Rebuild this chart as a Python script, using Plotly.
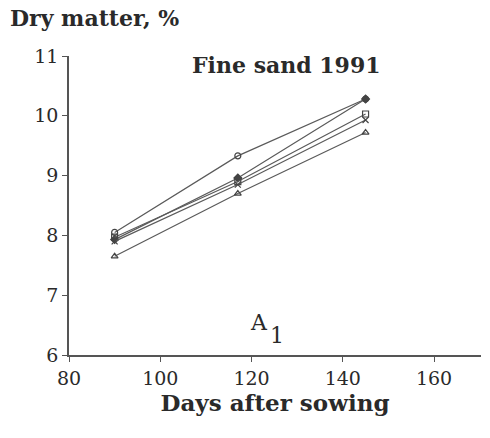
import plotly.graph_objects as go

days = [90, 117, 145]
s_circle = [8.05, 9.33, 10.28]
s_filled = [7.93, 8.96, 10.28]
s_square = [7.97, 8.90, 10.03]
s_cross = [7.90, 8.85, 9.93]
s_triangle = [7.65, 8.70, 9.72]

x_ticks = [80, 100, 120, 140, 160]
y_ticks = [6, 7, 8, 9, 10, 11]

series = [
    (s_circle, "circle-open"),
    (s_filled, "diamond"),
    (s_square, "square-open"),
    (s_cross, "x-thin-open"),
    (s_triangle, "triangle-up-open"),
]

fig = go.Figure()
for vals, sym in series:
    fig.add_trace(go.Scatter(
        x=days, y=vals, mode="lines+markers",
        line=dict(color="#5a5a5a", width=1.2),
        marker=dict(symbol=sym, size=6, color="#444444",
                    line=dict(color="#444444", width=1.2)),
        showlegend=False,
    ))

font = "DejaVu Serif"
fig.update_layout(
    width=490, height=438,
    margin=dict(l=69, r=9, t=56, b=83),
    plot_bgcolor="white", paper_bgcolor="white",
    font=dict(family=font, size=19, color="#2a2a2a"),
    xaxis=dict(range=[80, 170.3], tickvals=x_ticks, showgrid=False, zeroline=False,
               showline=True, linecolor="#555555", linewidth=1.5,
               ticks="outside", ticklen=5, tickcolor="#555555",
               title=dict(text="<b>Days after sowing</b>", font=dict(size=23), standoff=6)),
    yaxis=dict(range=[6, 11], tickvals=y_ticks, showgrid=False, zeroline=False,
               showline=True, linecolor="#555555", linewidth=1.5,
               ticks="outside", ticklen=5, tickcolor="#555555"),
    annotations=[
        dict(text="<b>Dry matter, %</b>", xref="paper", yref="paper",
             x=-61/412, y=1 + 38/299, xanchor="left", yanchor="middle",
             showarrow=False, font=dict(size=22)),
        dict(text="<b>Fine sand 1991</b>", xref="x", yref="y",
             x=127.6, y=10.85, xanchor="center", yanchor="middle",
             showarrow=False, font=dict(size=22)),
        dict(text="A", xref="x", yref="y",
             x=121.7, y=6.55, xanchor="center", yanchor="middle",
             showarrow=False, font=dict(size=22)),
        dict(text="1", xref="x", yref="y",
             x=125.6, y=6.33, xanchor="center", yanchor="middle",
             showarrow=False, font=dict(size=22)),
    ],
)

fig.write_html("out.html")
